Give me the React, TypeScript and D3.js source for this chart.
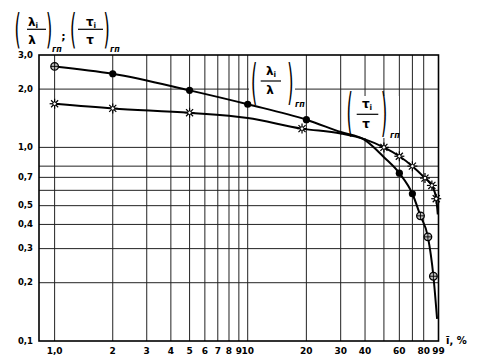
import React from 'react';
import * as d3 from 'd3';

const W = 485;
const H = 358;

// axis ticks / grid
const xTickValues = [1, 2, 3, 4, 5, 6, 7, 8, 9, 10, 20, 30, 40, 60, 80, 99];
const xTickLabels = ['1,0', '2', '3', '4', '5', '6', '7', '8', '9', '10', '20', '30', '40', '60', '80', '99'];
const xGridValues = [1, 2, 3, 4, 5, 6, 7, 8, 9, 10, 20, 30, 40, 50, 60, 70, 80];
const yGridValues = [2, 1, 0.8, 0.7, 0.6, 0.5, 0.4, 0.3, 0.2];
const yTickValues = [3, 2, 1, 0.7, 0.5, 0.4, 0.3, 0.2, 0.1];
const yTickLabels = ['3,0', '2,0', '1,0', '0,7', '0,5', '0,4', '0,3', '0,2', '0,1'];

// (λi/λ)гп series
const lambdaX = [1, 2, 5, 10, 20, 30, 40, 50, 60, 70, 77, 85, 92, 97];
const lambdaY = [2.62, 2.4, 1.97, 1.67, 1.39, 1.2, 1.09, 0.89, 0.736, 0.576, 0.443, 0.345, 0.216, 0.13];
const lambdaMarker = ['open', 'dot', 'dot', 'dot', 'dot', 'none', 'none', 'none', 'dot', 'dot', 'open', 'open', 'open', 'none'];

// (τi/τ)гп series
const tauX = [1, 2, 5, 10, 19, 30, 40, 50, 60, 70, 81.5, 90, 95.8, 98];
const tauY = [1.68, 1.59, 1.51, 1.42, 1.25, 1.18, 1.1, 1.0, 0.9, 0.8, 0.694, 0.636, 0.543, 0.45];
const tauMarker = ['star', 'star', 'star', 'none', 'star', 'none', 'none', 'star', 'star', 'star', 'star', 'star', 'star', 'none'];

const x = d3.scaleLog().domain([0.83, 10, 80, 99]).range([39, 247.7, 423.7, 438.5]);
const y = d3.scaleLog().domain([0.1, 3]).range([341, 55]);

const line = d3
  .line<[number, number]>()
  .x((d) => x(d[0]))
  .y((d) => y(d[1]))
  .curve(d3.curveMonotoneX);

const FONT = '"DejaVu Sans", "Liberation Sans", Arial, sans-serif';

function Star({ cx, cy }: { cx: number; cy: number }) {
  const r = 5;
  const rays = d3.range(8).map((k) => (k * Math.PI) / 4);
  return (
    <g>
      {rays.map((a, i) => (
        <line key={i} x1={cx} y1={cy} x2={cx + r * Math.cos(a)} y2={cy + r * Math.sin(a)} stroke="#000" strokeWidth={1.2} />
      ))}
      <circle cx={cx} cy={cy} r={1.8} fill="#fff" stroke="#000" strokeWidth={0.9} />
    </g>
  );
}

function OpenMark({ cx, cy }: { cx: number; cy: number }) {
  const r = 3.8;
  return (
    <g>
      <circle cx={cx} cy={cy} r={r} fill="#bbb" stroke="#000" strokeWidth={1.3} />
      <line x1={cx - r} y1={cy} x2={cx + r} y2={cy} stroke="#000" strokeWidth={0.9} />
      <line x1={cx} y1={cy - r} x2={cx} y2={cy + r} stroke="#000" strokeWidth={0.9} />
    </g>
  );
}

function Paren({ cx, base, scale, ch }: { cx: number; base: number; scale: number; ch: string }) {
  return (
    <text
      transform={`translate(${cx},${base}) scale(1,${scale})`}
      textAnchor="middle"
      fontFamily={FONT}
      fontSize={16}
    >
      {ch}
    </text>
  );
}

function Frac({
  cx, numBase, barY, barX1, barX2, denBase, sym,
}: { cx: number; numBase: number; barY: number; barX1: number; barX2: number; denBase: number; sym: string }) {
  return (
    <g fontFamily={FONT} fontWeight="bold">
      <text x={cx} y={numBase} textAnchor="middle" fontSize={12}>
        {sym}
        <tspan fontSize={7.5} dy={2}>i</tspan>
      </text>
      <line x1={barX1} x2={barX2} y1={barY} y2={barY} stroke="#000" strokeWidth={1.2} />
      <text x={cx - 1} y={denBase} textAnchor="middle" fontSize={12}>
        {sym}
      </text>
    </g>
  );
}

function Sub({ x0, base }: { x0: number; base: number }) {
  return (
    <text x={x0} y={base} fontFamily={FONT} fontSize={8} fontStyle="italic" fontWeight="bold">
      гп
    </text>
  );
}

export default function App() {
  const x0 = x(0.83);
  const x1 = x(99);
  const yTop = y(3);
  const yBot = y(0.1);
  const lamPts: [number, number][] = lambdaX.map((v, i) => [v, lambdaY[i]]);
  const tauPts: [number, number][] = tauX.map((v, i) => [v, tauY[i]]);

  return (
    <svg width={W} height={H} style={{ position: 'absolute', left: 0, top: 0, background: '#fff' }}>
      <rect x={0} y={0} width={W} height={H} fill="#fff" />
      {/* grid */}
      {xGridValues.map((v) => (
        <line key={'gx' + v} x1={x(v)} x2={x(v)} y1={yTop} y2={yBot} stroke="#222" strokeWidth={1} />
      ))}
      {yGridValues.map((v) => (
        <line key={'gy' + v} x1={x0} x2={x1} y1={y(v)} y2={y(v)} stroke="#222" strokeWidth={1} />
      ))}
      {/* frame */}
      <rect x={x0} y={yTop} width={x1 - x0} height={yBot - yTop} fill="none" stroke="#000" strokeWidth={1.6} />

      {/* label backgrounds */}
      <rect x={249} y={58} width={46} height={46} fill="#fff" />
      <rect x={346} y={96} width={53} height={42} fill="#fff" />

      {/* curves */}
      <path d={line(lamPts) || ''} fill="none" stroke="#000" strokeWidth={2} />
      <path d={line(tauPts) || ''} fill="none" stroke="#000" strokeWidth={2} />

      {/* markers */}
      {lamPts.map((p, i) =>
        lambdaMarker[i] === 'dot' ? (
          <circle key={'l' + i} cx={x(p[0])} cy={y(p[1])} r={3.6} fill="#000" />
        ) : lambdaMarker[i] === 'open' ? (
          <OpenMark key={'l' + i} cx={x(p[0])} cy={y(p[1])} />
        ) : null
      )}
      {tauPts.map((p, i) =>
        tauMarker[i] === 'star' ? <Star key={'t' + i} cx={x(p[0])} cy={y(p[1])} /> : null
      )}

      {/* y tick labels */}
      {yTickValues.map((v, i) => (
        <text key={'yl' + v} x={33} y={y(v) + 2.5} textAnchor="end" fontFamily={FONT} fontWeight="bold" fontSize={8.5}>
          {yTickLabels[i]}
        </text>
      ))}
      {/* x tick labels */}
      {xTickValues.map((v, i) => (
        <text key={'xl' + v} x={x(v)} y={353.5} textAnchor="middle" fontFamily={FONT} fontWeight="bold" fontSize={9}>
          {xTickLabels[i]}
        </text>
      ))}
      <text x={446} y={344} fontFamily={FONT} fontWeight="bold" fontSize={10}>
        ī, %
      </text>

      {/* title */}
      <Paren cx={17.5} base={42.7} scale={2.5} ch="(" />
      <Frac cx={33} numBase={26} barY={29.3} barX1={27} barX2={46} denBase={44} sym="λ" />
      <Paren cx={49} base={42.7} scale={2.5} ch=")" />
      <Sub x0={52} base={52} />
      <text x={63.5} y={40} textAnchor="middle" fontFamily={FONT} fontWeight="bold" fontSize={11}>;</text>
      <Paren cx={73} base={42.7} scale={2.5} ch="(" />
      <Frac cx={91} numBase={26} barY={29.3} barX1={78} barX2={103} denBase={44} sym="τ" />
      <Paren cx={106.5} base={42.7} scale={2.5} ch=")" />
      <Sub x0={110} base={52} />

      {/* in-chart labels */}
      <Paren cx={254} base={98.6} scale={3.0} ch="(" />
      <Frac cx={271} numBase={75} barY={81} barX1={260.7} barX2={281} denBase={93.5} sym="λ" />
      <Paren cx={290.3} base={98.6} scale={3.0} ch=")" />
      <Sub x0={295} base={106.5} />

      <Paren cx={349.7} base={130} scale={3.2} ch="(" />
      <Frac cx={367} numBase={108} barY={114.3} barX1={356.7} barX2={378.3} denBase={127.7} sym="τ" />
      <Paren cx={384.2} base={130} scale={3.2} ch=")" />
      <Sub x0={390} base={138.3} />
    </svg>
  );
}
